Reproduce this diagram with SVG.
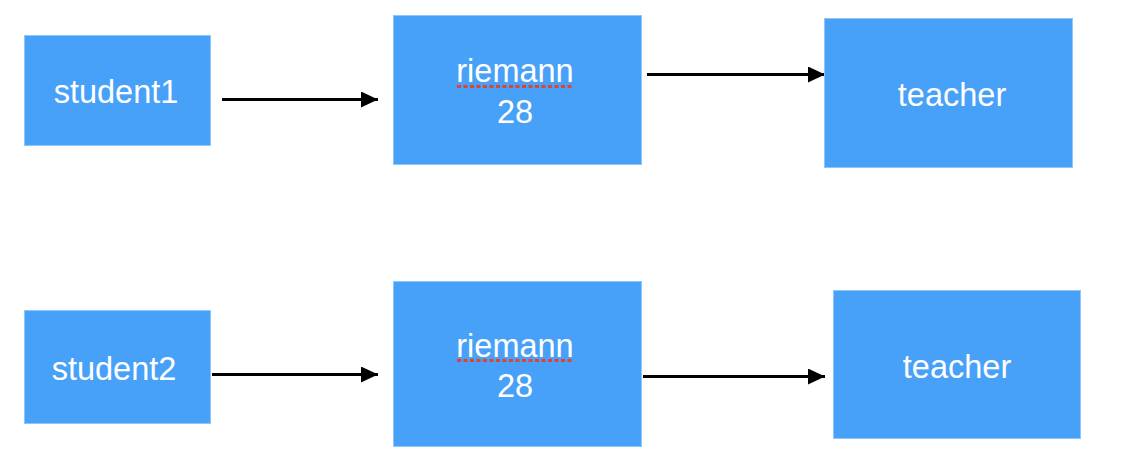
<svg xmlns="http://www.w3.org/2000/svg" width="1132" height="463" viewBox="0 0 1132 463">
<style>
.box{fill:#48A1F8;stroke:#8CC6FA;stroke-width:1}
.lbl{fill:#fff;font-family:"Liberation Sans",Arial,sans-serif;font-size:32.5px;text-anchor:middle}
.edge{stroke:#000;stroke-width:3;fill:none}
.sq{stroke:#E2432E;stroke-width:3;stroke-dasharray:4 2.5;fill:none}
</style>
<defs>
<marker id="ah" viewBox="0 0 17 16" refX="17" refY="8" markerWidth="17" markerHeight="16" markerUnits="userSpaceOnUse" orient="auto">
<path d="M0,0 L17,8 L0,16 Z" fill="#000"/>
</marker>
</defs>
<rect width="1132" height="463" fill="#fff"/>
<g id="connectors">
<line class="edge" x1="222" y1="99.5" x2="378" y2="99.5" marker-end="url(#ah)"/>
<line class="edge" x1="647" y1="74.5" x2="825" y2="74.5" marker-end="url(#ah)"/>
<line class="edge" x1="212" y1="374.5" x2="378" y2="374.5" marker-end="url(#ah)"/>
<line class="edge" x1="643" y1="376.5" x2="825" y2="376.5" marker-end="url(#ah)"/>
</g>
<g id="student1">
<rect class="box" x="24.5" y="35.5" width="186" height="110"/>
<text class="lbl" x="116" y="103">student1</text>
</g>
<g id="riemann1">
<rect class="box" x="393.5" y="15.5" width="248" height="149"/>
<text class="lbl" x="515" y="82">riemann</text>
<text class="lbl" x="515" y="123">28</text>
<line class="sq" x1="457" y1="86.5" x2="573" y2="86.5"/>
</g>
<g id="teacher1">
<rect class="box" x="824.5" y="18.5" width="248" height="149"/>
<text class="lbl" x="952" y="106">teacher</text>
</g>
<g id="student2">
<rect class="box" x="24.5" y="310.5" width="186" height="113"/>
<text class="lbl" x="114" y="380">student2</text>
</g>
<g id="riemann2">
<rect class="box" x="393.5" y="281.5" width="248" height="165"/>
<text class="lbl" x="515" y="357">riemann</text>
<text class="lbl" x="515" y="397">28</text>
<line class="sq" x1="457" y1="360.5" x2="573" y2="360.5"/>
</g>
<g id="teacher2">
<rect class="box" x="833.5" y="290.5" width="247" height="148"/>
<text class="lbl" x="957" y="378">teacher</text>
</g>
</svg>
